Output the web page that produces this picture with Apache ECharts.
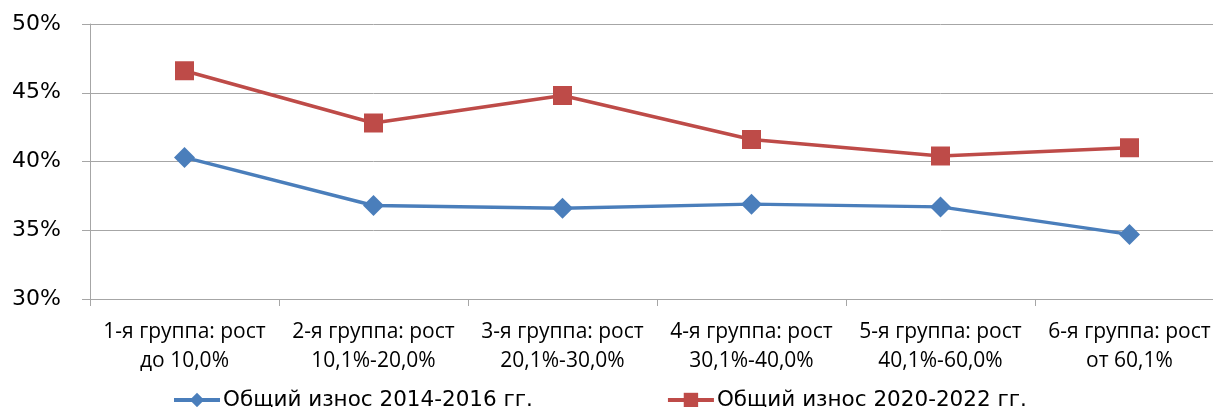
<!DOCTYPE html>
<html>
<head>
<meta charset="utf-8">
<script src="https://cdn.jsdelivr.net/npm/echarts@6/dist/echarts.min.js"></script>
<style>
  html, body { margin: 0; padding: 0; background: #fff; overflow: hidden; }
  #chart { width: 1224px; height: 407px; }
</style>
</head>
<body>
<div id="chart"></div>
<script>
// группы по росту
var categories = [
    '1-я группа: рост\nдо 10,0%',
    '2-я группа: рост\n10,1%-20,0%',
    '3-я группа: рост\n20,1%-30,0%',
    '4-я группа: рост\n30,1%-40,0%',
    '5-я группа: рост\n40,1%-60,0%',
    '6-я группа: рост\nот 60,1%'
];
var wear2014 = [40.3, 36.8, 36.6, 36.9, 36.7, 34.7];
var wear2020 = [46.6, 42.8, 44.8, 41.6, 40.4, 41.0];
var seriesNames = ['Общий износ 2014-2016 гг.', 'Общий износ 2020-2022 гг.'];
var yTicks = [30, 35, 40, 45, 50];

var myChart = echarts.init(document.getElementById('chart'));
var gridColor = '#A6A6A6';

myChart.setOption({
    animation: false,
    grid: { left: 90, right: 0, top: 24, bottom: 108, containLabel: false },
    legend: {
        left: 167,
        top: 384,
        itemWidth: 46,
        itemHeight: 18,
        itemGap: 133,
        lineStyle: { width: 4 },
        textStyle: { fontFamily: 'DejaVu Sans', fontSize: 21.5, color: '#000', padding: [0, 0, 0, -2] },
        data: seriesNames
    },
    xAxis: {
        type: 'category',
        boundaryGap: true,
        data: categories,
        axisLine: { lineStyle: { color: gridColor, width: 1 } },
        axisTick: { show: true, length: 7, lineStyle: { color: gridColor } },
        axisLabel: {
            interval: 0,
            margin: 19,
            color: '#000',
            fontFamily: 'Open Sans',
            fontSize: 21,
            lineHeight: 29
        }
    },
    yAxis: {
        type: 'value',
        min: yTicks[0],
        max: yTicks[yTicks.length - 1],
        interval: 5,
        axisLine: { show: true, lineStyle: { color: gridColor } },
        axisTick: { show: true, length: 8, lineStyle: { color: gridColor } },
        splitLine: { lineStyle: { color: gridColor, width: 1 } },
        axisLabel: {
            margin: 29,
            color: '#000',
            fontFamily: 'DejaVu Sans',
            fontSize: 22,
            formatter: '{value}%'
        }
    },
    series: [
        {
            name: seriesNames[0],
            type: 'line',
            data: wear2014,
            symbol: 'diamond',
            symbolSize: 21,
            lineStyle: { color: '#4A7EBB', width: 3.5 },
            itemStyle: { color: '#4A7EBB' }
        },
        {
            name: seriesNames[1],
            type: 'line',
            data: wear2020,
            symbol: 'rect',
            symbolSize: 19,
            lineStyle: { color: '#BE4B48', width: 3.5 },
            itemStyle: { color: '#BE4B48' }
        }
    ]
});
</script>
</body>
</html>
